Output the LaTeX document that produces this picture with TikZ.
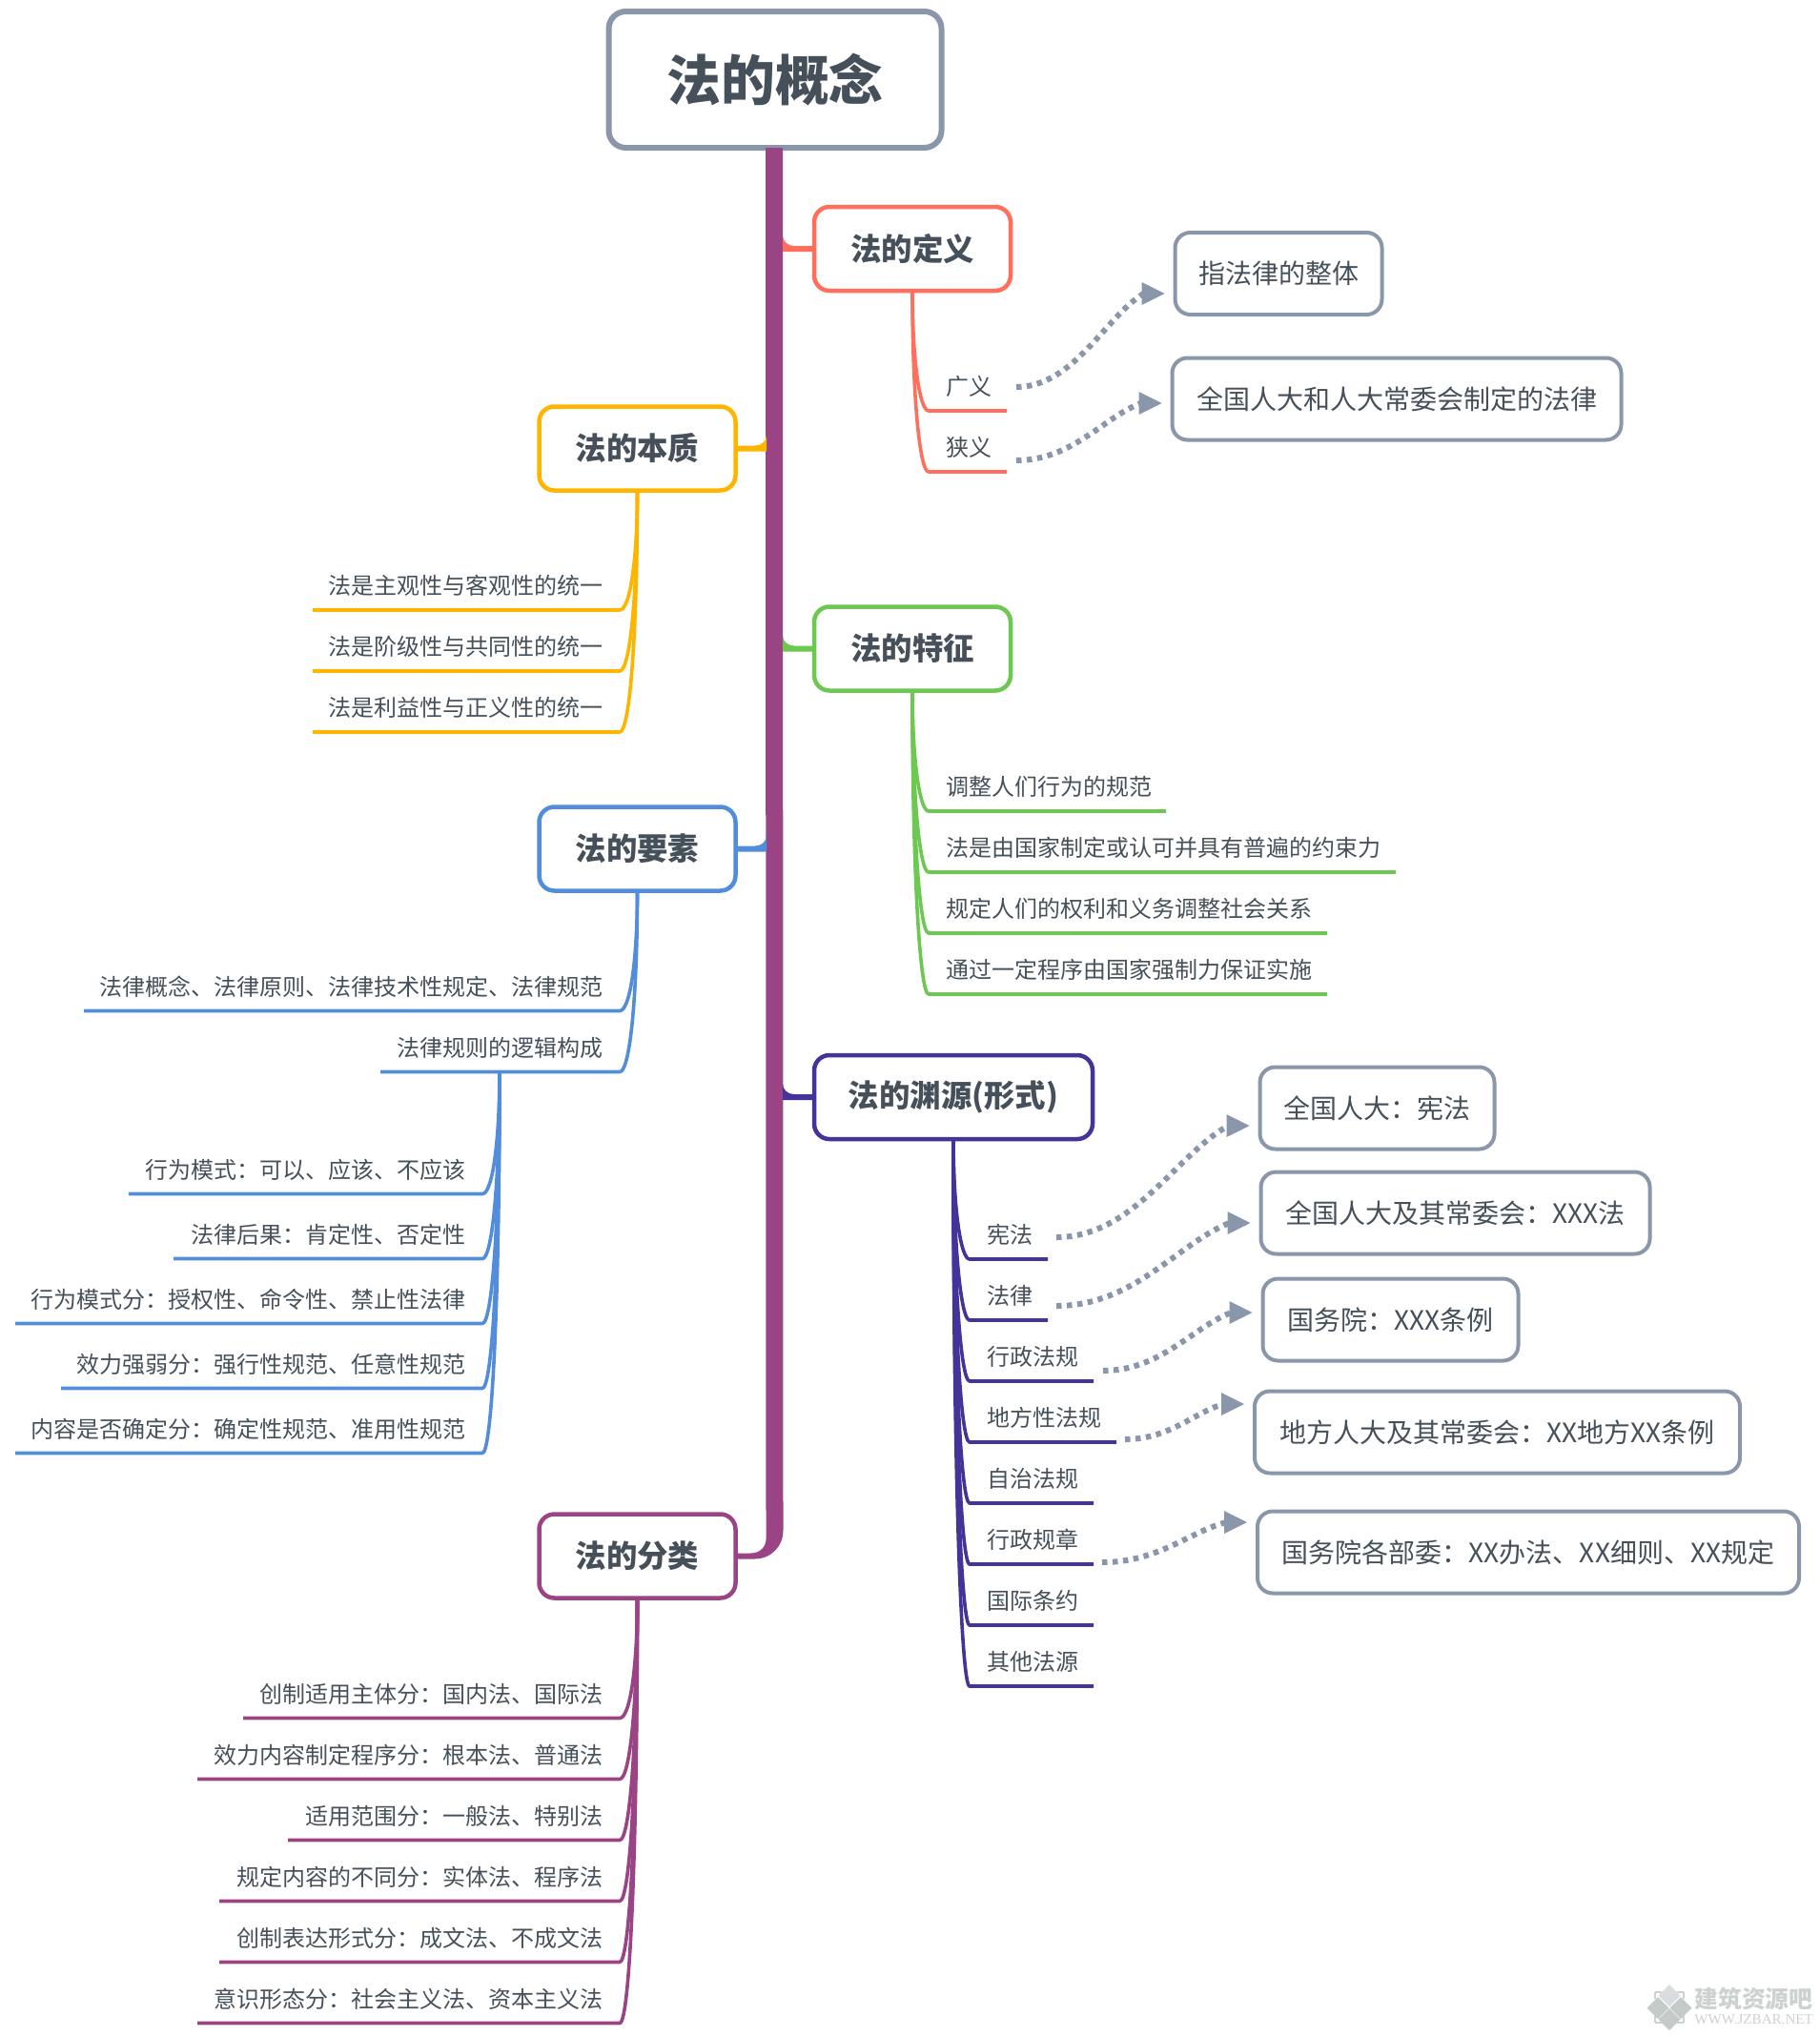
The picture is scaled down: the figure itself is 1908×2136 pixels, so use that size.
\documentclass[tikz,border=0pt]{standalone}
\usepackage{fontspec}
\setmainfont{Noto Sans CJK SC}
\newfontfamily\wmlatin{Liberation Serif}
\usetikzlibrary{calc}
\definecolor{txt}{HTML}{45505A}
\definecolor{slate}{HTML}{8A96A9}
\definecolor{cred}{HTML}{FF6F5C}
\definecolor{corange}{HTML}{FFB400}
\definecolor{cgreen}{HTML}{6CC850}
\definecolor{cblue}{HTML}{528DDB}
\definecolor{cindigo}{HTML}{443399}
\definecolor{cpurple}{HTML}{9A4385}
\definecolor{wm}{HTML}{CDD1D1}
\definecolor{wmtop}{HTML}{DADCE0}
\definecolor{wmdia}{HTML}{C5CBC8}
\tikzset{
  rootbox/.style={draw=slate,line width=3pt,rounded corners=9pt,fill=white,minimum width=174.5pt,minimum height=71.5pt,inner sep=0pt,outer sep=0pt,text=txt,font=\fontsize{28.4}{30}\selectfont\bfseries},
  mainbox/.style={draw=#1,line width=2.25pt,rounded corners=8pt,fill=white,minimum height=44pt,inner sep=0pt,outer sep=0pt,text=txt,font=\fontsize{16.2}{18}\selectfont\bfseries},
  callout/.style={draw=slate,line width=2pt,rounded corners=8pt,fill=white,minimum height=43pt,inner sep=0pt,outer sep=0pt,text=txt,font=\fontsize{14}{16}\selectfont},
  leaf/.style={inner sep=0pt,outer sep=0pt,text=txt,font=\fontsize{12}{14}\selectfont,text height=12pt,text depth=8.2pt},
  leafline/.style={line width=1.8pt,line join=round},
  dotline/.style={draw=slate,line width=3pt,dash pattern=on 2.75pt off 2.75pt}
}
\newcommand{\leafR}[7]{%
  \pgfmathsetmacro\lw{(#5-#4)*0.5}
  \node[leaf,text width=\lw pt,align=left,anchor=south west] (#1) at (#4,#6) {\rule{9pt}{0pt}#7};
  \draw[leafline,draw=#2] let \p1=(#3), \p2=(#1.south west) in (\p1) .. controls (\x1,{\y1+0.6*(\y2-\y1)}) and ({\x1+4pt},\y2) .. (\p2) -- (#1.south east);
}
\newcommand{\leafL}[7]{%
  \pgfmathsetmacro\lw{(#5-#4)*0.5}
  \node[leaf,text width=\lw pt,align=right,anchor=south east] (#1) at (#5,#6) {#7\rule{8.6pt}{0pt}};
  \draw[leafline,draw=#2] let \p1=(#3), \p2=(#1.south east) in (\p1) .. controls (\x1,{\y1+0.6*(\y2-\y1)}) and ({\x1-4pt},\y2) .. (\p2) -- (#1.south west);
}
\newcommand{\stubR}[2]{\fill[#2] ($(#1.west)+(0,-3)$) -- ++(-21,0) .. controls +(-7,0) and +(0,6) .. ++(-12,-11) -- ++(0,17) -- ++(33,0) -- cycle;}
\newcommand{\stubL}[2]{\fill[#2] ($(#1.east)+(0,-3)$) -- ++(20.5,0) .. controls +(7,0) and +(0,6) .. ++(12,-11) -- ++(0,17) -- ++(-32.5,0) -- cycle;}
\newcommand{\darrow}[5]{% label, label offset, callout, callout offset, name
  \coordinate (s#5) at ($(#1.south east)+#2$);
  \coordinate (t#5) at ($(#3.west)+#4$);
  \coordinate (e#5) at ($(t#5)+(-22,0)$);
  \draw[dotline] let \p1=(s#5), \p2=(e#5) in (\p1) .. controls ({\x1+0.45*(\x2-\x1)},\y1) and ({\x2-0.3*(\x2-\x1)},{\y2-0.25*(\y2-\y1)}) .. (\p2);
  \fill[slate] (t#5) -- ++(-24,-12) -- ++(0,24) -- cycle;
}
\begin{document}
\begin{tikzpicture}[x=0.5pt,y=-0.5pt]
\useasboundingbox (0,0) rectangle (1908,2136);
% main nodes
\node[rootbox] (root) at (813,83.5) {\raisebox{1.2pt}{法的概念}};
\node[mainbox=cred,minimum width=103pt] (fd) at (957,261) {法的定义};
\node[mainbox=corange,minimum width=103pt] (fb) at (668.5,470.5) {法的本质};
\node[mainbox=cgreen,minimum width=103pt] (ft) at (957,680.5) {法的特征};
\node[mainbox=cblue,minimum width=103pt] (fy) at (668.5,890.5) {法的要素};
\node[mainbox=cindigo,minimum width=146pt] (fx) at (1000,1151) {法的渊源(形式)};
\node[mainbox=cpurple,minimum width=103pt] (ff) at (668.5,1632.5) {法的分类};
% trunk
\fill[cpurple] ($(root.south)+(-10,0)$) -- ++(18,0) -- ($(ff.east)+(50,-27)$) .. controls +(0,17) and +(17,0) .. ($(ff.east)+(20,3)$) -- ($(ff.east)+(0,3)$) -- ($(ff.east)+(0,-3)$) -- ($(ff.east)+(16,-3)$) .. controls +(10,0) and +(0,8) .. ($(ff.east)+(32,-18)$) -- cycle;
\stubR{fd}{cred}
\stubL{fb}{corange}
\stubR{ft}{cgreen}
\stubL{fy}{cblue}
\stubR{fx}{cindigo}
% definition
\leafR{a1}{cred}{fd.south}{974}{1056}{431}{广义}
\leafR{a2}{cred}{fd.south}{974}{1056}{495}{狭义}
% essence
\leafL{b1}{corange}{fb.south}{328}{650}{640}{法是主观性与客观性的统一}
\leafL{b2}{corange}{fb.south}{328}{650}{704}{法是阶级性与共同性的统一}
\leafL{b3}{corange}{fb.south}{328}{650}{768}{法是利益性与正义性的统一}
% features
\leafR{c1}{cgreen}{ft.south}{974}{1223}{851}{调整人们行为的规范}
\leafR{c2}{cgreen}{ft.south}{974}{1464}{915}{法是由国家制定或认可并具有普遍的约束力}
\leafR{c3}{cgreen}{ft.south}{974}{1392}{979}{规定人们的权利和义务调整社会关系}
\leafR{c4}{cgreen}{ft.south}{974}{1392}{1043}{通过一定程序由国家强制力保证实施}
% elements
\leafL{d1}{cblue}{fy.south}{88}{650}{1060.5}{法律概念、法律原则、法律技术性规定、法律规范}
\leafL{d2}{cblue}{fy.south}{399}{650}{1124.5}{法律规则的逻辑构成}
\coordinate (dj) at ($(d2.south west)+(125,0)$);
\leafL{e1}{cblue}{dj}{135}{506}{1252.5}{行为模式：可以、应该、不应该}
\leafL{e2}{cblue}{dj}{182}{506}{1320.5}{法律后果：肯定性、否定性}
\leafL{e3}{cblue}{dj}{16}{506}{1388.5}{行为模式分：授权性、命令性、禁止性法律}
\leafL{e4}{cblue}{dj}{64}{506}{1456.5}{效力强弱分：强行性规范、任意性规范}
\leafL{e5}{cblue}{dj}{16}{506}{1524.5}{内容是否确定分：确定性规范、准用性规范}
% sources
\leafR{g1}{cindigo}{fx.south}{1017}{1099}{1321}{宪法}
\leafR{g2}{cindigo}{fx.south}{1017}{1099}{1385}{法律}
\leafR{g3}{cindigo}{fx.south}{1017}{1147}{1449}{行政法规}
\leafR{g4}{cindigo}{fx.south}{1017}{1171}{1513}{地方性法规}
\leafR{g5}{cindigo}{fx.south}{1017}{1147}{1577}{自治法规}
\leafR{g6}{cindigo}{fx.south}{1017}{1147}{1641}{行政规章}
\leafR{g7}{cindigo}{fx.south}{1017}{1147}{1705}{国际条约}
\leafR{g8}{cindigo}{fx.south}{1017}{1147}{1769}{其他法源}
% classification
\leafL{h1}{cpurple}{ff.south}{255}{650}{1802.5}{创制适用主体分：国内法、国际法}
\leafL{h2}{cpurple}{ff.south}{207}{650}{1866.5}{效力内容制定程序分：根本法、普通法}
\leafL{h3}{cpurple}{ff.south}{302}{650}{1930.5}{适用范围分：一般法、特别法}
\leafL{h4}{cpurple}{ff.south}{230}{650}{1994.5}{规定内容的不同分：实体法、程序法}
\leafL{h5}{cpurple}{ff.south}{230}{650}{2058.5}{创制表达形式分：成文法、不成文法}
\leafL{h6}{cpurple}{ff.south}{207}{650}{2122.5}{意识形态分：社会主义法、资本主义法}
% callouts
\node[callout,minimum width=108.5pt] (k1) at (1341,287) {指法律的整体};
\node[callout,minimum width=235.5pt] (k2) at (1465,418.5) {全国人大和人大常委会制定的法律};
\node[callout,minimum width=123pt] (k3) at (1444.5,1162.5) {全国人大：宪法};
\node[callout,minimum width=204pt] (k4) at (1526.5,1272.5) {全国人大及其常委会：XXX法};
\node[callout,minimum width=134pt] (k5) at (1458.5,1384.5) {国务院：XXX条例};
\node[callout,minimum width=254.5pt] (k6) at (1570.5,1502.5) {地方人大及其常委会：XX地方XX条例};
\node[callout,minimum width=284pt] (k7) at (1603,1628.5) {国务院各部委：XX办法、XX细则、XX规定};
% dotted arrows
\darrow{a1}{(10,-25)}{k1}{(-11,21)}{1}
\darrow{a2}{(10,-12)}{k2}{(-11,4.5)}{2}
\darrow{g1}{(9,-23)}{k3}{(-11,18.5)}{3}
\darrow{g2}{(9,-15)}{k4}{(-11,10.5)}{4}
\darrow{g3}{(10,-11)}{k5}{(-11,-7.5)}{5}
\darrow{g4}{(9,-3)}{k6}{(-11,-29.5)}{6}
\darrow{g6}{(9,-2)}{k7}{(-11,-31.5)}{7}
% watermark
\draw[wm,line width=0.8pt] (1736,2090) -- (1736,2097) (1736,2090) -- (1743,2090) (1766,2090) -- (1759,2090) (1766,2090) -- (1766,2097) (1736,2122) -- (1736,2115) (1736,2122) -- (1743,2122) (1766,2122) -- (1759,2122) (1766,2122) -- (1766,2115);
\fill[wmtop] (1751,2082) -- (1762.5,2093.5) -- (1751,2105) -- (1739.5,2093.5) -- cycle;
\fill[wmdia] (1739,2095) -- (1750.5,2106.5) -- (1739,2118) -- (1727.5,2106.5) -- cycle;
\fill[wmdia] (1763,2095) -- (1774.5,2106.5) -- (1763,2118) -- (1751.5,2106.5) -- cycle;
\fill[wmdia] (1751,2107) -- (1762.5,2118.5) -- (1751,2130) -- (1739.5,2118.5) -- cycle;
\node[inner sep=0pt,text=wm,font=\fontsize{12.4}{13}\selectfont\bfseries,anchor=west] (wmt) at (1777,2097) {建筑资源吧};
\node[inner sep=0pt,text=wm,font=\fontsize{7.55}{8}\wmlatin\selectfont,anchor=west] (wmu) at (1777,2119) {WWW.JZBAR.NET};
\end{tikzpicture}
\end{document}
